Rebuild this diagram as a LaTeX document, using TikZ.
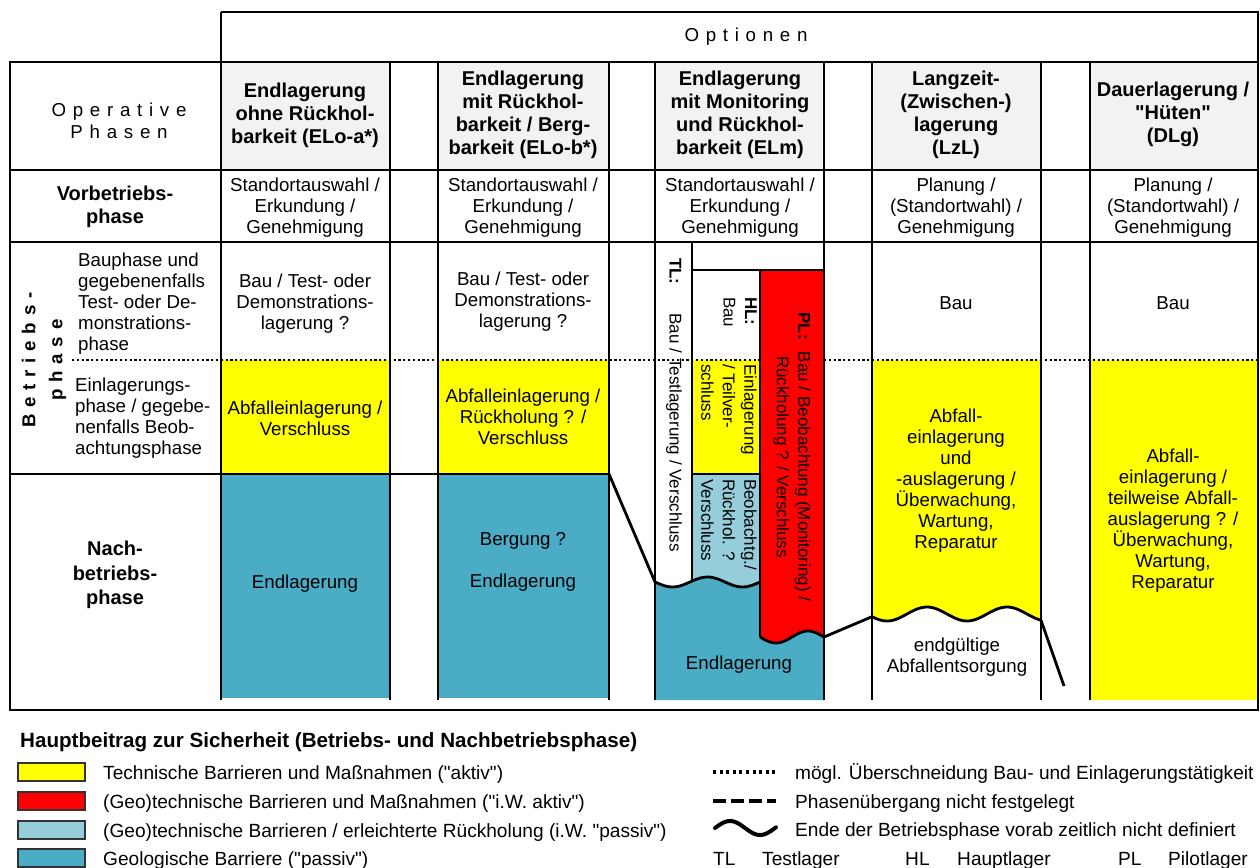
\documentclass[tikz,border=0pt]{standalone}
\usepackage{fontspec}
\setmainfont{Liberation Sans}[Ligatures=TeXOff]
\newfontfamily\spacedfont[LetterSpace=36]{Liberation Sans}
\usetikzlibrary{%
	positioning,%
	calc
}

\definecolor{aktiv}{HTML}{FFFF00}
\definecolor{iwaktiv}{HTML}{FF0000}
\definecolor{passivhell}{HTML}{96CDDB}
\definecolor{geologisch}{HTML}{4BACC6}
\definecolor{kopfgrau}{HTML}{F2F2F2}

\tikzset{
	frame/.style={line width=2.8pt},
	dotline/.style={line width=2.2pt, dash pattern=on 2.2pt off 2.6pt},
	txt/.style={align=center, inner sep=0pt, font=\fontsize{18.7}{21}\selectfont},
	legtxt/.style={anchor=base west, inner sep=0pt, font=\fontsize{19.1}{21}\selectfont},
	head/.style={align=center, inner sep=0pt, font=\fontsize{20}{23}\selectfont\bfseries},
	spaced/.style={align=center, inner sep=0pt, font=\spacedfont\fontsize{18.7}{22}\selectfont},
	vtxt/.style={rotate=-90, align=left, inner sep=0pt, font=\fontsize{17}{21.5}\selectfont},
	swatch/.style={draw=black!80, line width=1.4pt},
	declare function={
		wtl(\x)=582+5*sin((\x-655)*5.142857);
		wpl(\x)=637+6*sin((\x-760)*5.625);
		wlz(\x)=614-7*sin((\x-907)*4.5);
		wlg(\x)=828-7*sin((\x-715)*6);
	}
}

\begin{document}
\begin{tikzpicture}[x=1pt,y=-1pt]
		\useasboundingbox (0,0) rectangle (1260,867);
		
		% Fills
		\foreach \xa/\xb in {221/390,438/609,655/824,872/1041,1090/1258}
		\fill[kopfgrau] (\xa,62) rectangle (\xb,170);
		\foreach \xa/\xb in {221/390,438/609}
		{
			\fill[aktiv] (\xa,360) rectangle (\xb,474);
			\fill[geologisch] (\xa,474) rectangle (\xb,698);
		}
		\fill[aktiv] (1090,360) rectangle (1258,700);
		\fill[aktiv] (872,360) -- plot[domain=872:1041,samples=60] (\x,{wlz(\x)}) -- (1041,360) -- cycle;
		\fill[geologisch] (655,700) -- plot[domain=655:760,samples=40] (\x,{wtl(\x)}) -- plot[domain=760:824,samples=30] (\x,{wpl(\x)}) -- (824,700) -- cycle;
		\fill[aktiv] (692,360) rectangle (760,474);
		\fill[passivhell] (692,474) -- (760,474) -- plot[domain=760:692,samples=30] (\x,{wtl(\x)}) -- cycle;
		\fill[iwaktiv] (760,270) -- (824,270) -- plot[domain=824:760,samples=30] (\x,{wpl(\x)}) -- cycle;
		
		% Dotted phase line
		\draw[dotline] (72,360) -- (760,360);
		\draw[dotline] (824,360) -- (1258,360);
		
		% Frame and grid
		\draw[frame] (221,12) -- (1258,12) -- (1258,710) -- (10,710) -- (10,62) -- (1258,62);
		\draw[frame] (221,12) -- (221,700);
		\foreach \y in {170,242}
		\draw[frame] (10,\y) -- (1258,\y);
		\draw[frame] (10,474) -- (609,474);
		\foreach \x in {390,438,609,655,824,872,1041,1090}
		\draw[frame] (\x,62) -- (\x,700);
		
		% ELm inner boxes
		\draw[frame] (692,242) -- (692,{wtl(692)});
		\draw[frame] (692,270) -- (824,270);
		\draw[frame] (760,270) -- (760,{wpl(760)});
		\draw[frame] (692,474) -- (760,474);
		
		% End of operating phase
		\draw[frame] plot[domain=655:760,samples=40] (\x,{wtl(\x)});
		\draw[frame] plot[domain=760:824,samples=30] (\x,{wpl(\x)});
		\draw[frame] plot[domain=872:1041,samples=60] (\x,{wlz(\x)});
		
		% Transitions
		\coordinate (blo) at (609,474);
		\coordinate (tls) at (655,{wtl(655)});
		\coordinate (ple) at (824,{wpl(824)});
		\coordinate (lzs) at (872,{wlz(872)});
		\coordinate (lze) at (1041,{wlz(1041)});
		\coordinate (dle) at (1064,686);
		\draw[frame] (blo) -- (tls);
		\draw[frame] (ple) -- (lzs);
		\draw[frame] (lze) -- (dle);
		
		% Head row
		\node[spaced] (optionen) at (746,37) {Optionen};
		\node[spaced] (operativ) at (119,121) {Operative\\Phasen};
		\node[head] (eloa) at (305,115) {Endlagerung\\ohne Rückhol-\\barkeit (ELo-a*)};
		\node[head] (elob) at (523,115) {Endlagerung\\mit Rückhol-\\barkeit / Berg-\\barkeit (ELo-b*)};
		\node[head] (elm) at (740,115) {Endlagerung\\mit Monitoring\\und Rückhol-\\barkeit (ELm)};
		\node[head] (lzl) at (956,115) {Langzeit-\\(Zwischen-)\\lagerung\\(LzL)};
		\node[head] (dlg) at (1173,114) {Dauerlagerung /\\"Hüten"\\(DLg)};
		
		% Vorbetriebsphase
		\node[head] (vor) at (115,207) {Vorbetriebs-\\phase};
		\foreach \cx/\nm in {305/a,523/b,740/m}
		\node[txt] (vor\nm) at (\cx,208) {Standortauswahl /\\Erkundung /\\Genehmigung};
		\foreach \cx/\nm in {956/lzl,1173/dlg}
		\node[txt] (vor\nm) at (\cx,208) {Planung /\\(Standortwahl) /\\Genehmigung};
		
		% Betriebsphase
		\node[spaced, rotate=90, font=\spacedfont\bfseries\fontsize{18.7}{27}\selectfont] (betrieb) at (44,360) {Betriebs-\\phase};
		\node[txt, align=left, anchor=west] (bauphase) at (78,304) {Bauphase und\\gegebenenfalls\\Test- oder De-\\monstrations-\\phase};
		\node[txt, align=left, anchor=west] (einphase) at (75,418) {Einlagerungs-\\phase / gegebe-\\nenfalls Beob-\\achtungsphase};
		\node[txt] (baua) at (305,304) {Bau / Test- oder\\Demonstrations-\\lagerung ?};
		\node[txt] (baub) at (523,302) {Bau / Test- oder\\Demonstrations-\\lagerung ?};
		\node[txt] (baulzl) at (956,303) {Bau};
		\node[txt] (baudlg) at (1173,303) {Bau};
		\node[txt] (eina) at (305,418) {Abfalleinlagerung /\\Verschluss};
		\node[txt] (einb) at (523,417) {Abfalleinlagerung /\\Rückholung ? /\\Verschluss};
		\node[txt] (einlzl) at (956,481) {Abfall-\\einlagerung\\und\\-auslagerung /\\Überwachung,\\Wartung,\\Reparatur};
		\node[txt] (eindlg) at (1173,521) {Abfall-\\einlagerung /\\teilweise Abfall-\\auslagerung ? /\\Überwachung,\\Wartung,\\Reparatur};
		
		% ELm lagers
		\node[vtxt, anchor=west] (tl) at (674,258) {\textbf{TL:}\hspace{29pt}Bau / Testlagerung / Verschluss};
		\node[vtxt, anchor=north west] (hlbau) at (757,297) {\textbf{HL:}\\Bau};
		\node[vtxt, anchor=north west] (hlein) at (757,364) {Einlagerung\\/ Teilver-\\schluss};
		\node[vtxt, anchor=north west] (hlbeob) at (757,479) {Beobachtg./\\Rückhol. ?\\Verschluss};
		\node[vtxt, align=center] (pl) at (792,457) {\textbf{PL:}\hspace{12pt}Bau / Beobachtung (Monitoring) /\\Rückholung ? / Verschluss};
		
		% Nachbetriebsphase
		\node[head, font=\fontsize{20}{24.5}\selectfont\bfseries] (nach) at (115,575) {Nach-\\betriebs-\\phase};
		\node[txt] (enda) at (305,584) {Endlagerung};
		\node[txt] (bergb) at (523,541) {Bergung ?};
		\node[txt] (endb) at (523,583) {Endlagerung};
		\node[txt] (endm) at (739,665) {Endlagerung};
		\node[txt] (entsorg) at (957,657) {endgültige\\Abfallentsorgung};
		
		% Legend
		\node[head, anchor=base west, font=\fontsize{20.6}{23}\selectfont\bfseries] (legtitel) at (20,747) {Hauptbeitrag zur Sicherheit (Betriebs- und Nachbetriebsphase)};
		\foreach \y/\c/\t [count=\i] in {772/aktiv/{Technische Barrieren und Maßnahmen ("aktiv")},
			801/iwaktiv/{(Geo)technische Barrieren und Maßnahmen ("i.W. aktiv")},
			830/passivhell/{(Geo)technische Barrieren / erleichterte Rückholung (i.W. "passiv")},
			858/geologisch/{Geologische Barriere ("passiv")}}
		{
			\draw[swatch, fill=\c] (18,{\y-9}) rectangle (85,{\y+9});
			\node[legtxt] (leg\i) at (103,{\y+7}) {\t};
		}
		\draw[line width=3.4pt, dash pattern=on 3pt off 3.6pt] (713,772) -- (776,772);
		\draw[line width=3.4pt, dash pattern=on 13pt off 5pt] (713,801) -- (776,801);
		\draw[line width=4pt, line cap=round] plot[domain=715:776,samples=40] (\x,{wlg(\x)});
		\node[legtxt] (legdot) at (795,779) {mögl. Überschneidung Bau- und Einlagerungstätigkeit};
		\node[legtxt] (legdash) at (795,808) {Phasenübergang nicht festgelegt};
		\node[legtxt] (legwave) at (795,836) {Ende der Betriebsphase vorab zeitlich nicht definiert};
		\foreach \x/\t in {713/TL,762/Testlager,905/HL,957/Hauptlager,1118/PL,1168/Pilotlager}
		\node[legtxt] (abk\t) at (\x,865) {\t};
	\end{tikzpicture}
\end{document}
